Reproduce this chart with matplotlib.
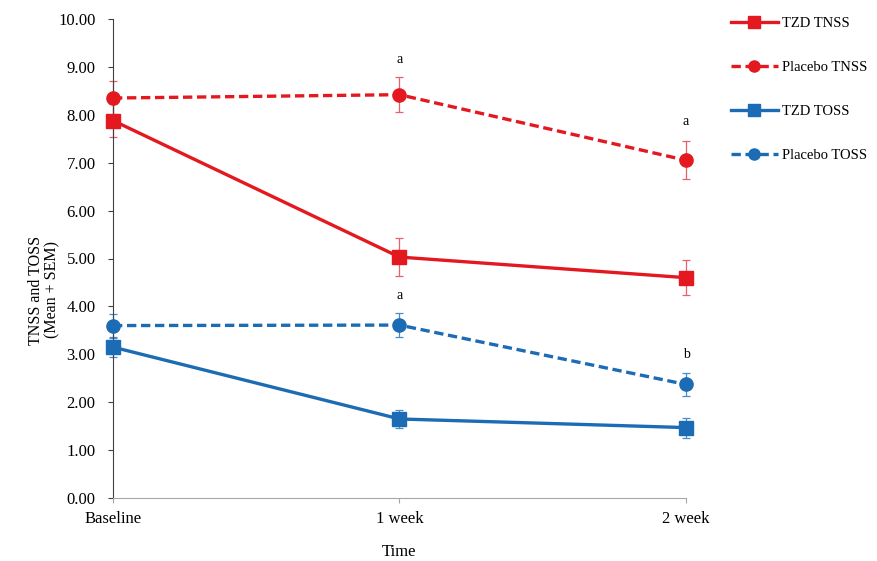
import matplotlib.pyplot as plt
from matplotlib.lines import Line2D

plt.rcParams['font.family'] = ['Liberation Serif', 'DejaVu Serif']

times = ['Baseline', '1 week', '2 week']

tzd_tnss = [7.88, 5.03, 4.60]
tzd_tnss_err = [0.35, 0.40, 0.36]
pla_tnss = [8.35, 8.42, 7.05]
pla_tnss_err = [0.35, 0.36, 0.40]
tzd_toss = [3.15, 1.65, 1.47]
tzd_toss_err = [0.20, 0.19, 0.21]
pla_toss = [3.60, 3.61, 2.37]
pla_toss_err = [0.24, 0.25, 0.25]

# significance letters: (time index, y position, letter)
notes = [(1, 9.15, 'a'), (2, 7.85, 'a'), (1, 4.22, 'a'), (2, 3.00, 'b')]

red = '#E3191F'
blue = '#1C6BB5'
red_err = '#E8606A'
blue_err = '#4A8ACB'

fig = plt.figure(figsize=(8.78, 5.61), dpi=100)
ax = fig.add_axes([113/878, 1-498/561, (686-113)/878, (498-19)/561])

x = list(range(len(times)))

dash = (0, (2.8, 1.4))
series = [
    (tzd_tnss, tzd_tnss_err, red, red_err, '-', 's', 'TZD TNSS'),
    (pla_tnss, pla_tnss_err, red, red_err, dash, 'o', 'Placebo TNSS'),
    (tzd_toss, tzd_toss_err, blue, blue_err, '-', 's', 'TZD TOSS'),
    (pla_toss, pla_toss_err, blue, blue_err, dash, 'o', 'Placebo TOSS'),
]
handles = []
for vals, err, col, ecol, ls, mk, lab in series:
    ax.errorbar(x, vals, yerr=err, fmt='none', ecolor=ecol, elinewidth=0.9,
                capsize=3, capthick=0.9, clip_on=False, zorder=2)
    ax.plot(x, vals, color=col, linestyle=ls, linewidth=2.4, marker=mk,
            markersize=9.5, clip_on=False, zorder=3)
    handles.append(Line2D([], [], color=col, linestyle=ls, linewidth=2.4,
                          marker=mk, markersize=8, label=lab))

for i, yv, t in notes:
    ax.text(x[i], yv, t, ha='center', va='center', fontsize=10)

ax.set_xlim(0, 2)
ax.set_ylim(0, 10)
ax.set_xticks(x)
ax.set_xticklabels(times, fontsize=12)
ax.set_yticks([i for i in range(11)])
ax.set_yticklabels(['%.2f' % i for i in range(11)], fontsize=12)
ax.spines['top'].set_visible(False)
ax.spines['right'].set_visible(False)
ax.spines['left'].set_color('#404040')
ax.spines['bottom'].set_color('#A6A6A6')
ax.tick_params(axis='y', direction='out', length=3.5, color='#404040', pad=9)
ax.tick_params(axis='x', direction='out', length=3.5, color='#A6A6A6', pad=6)

ax.set_xlabel('Time', fontsize=12, labelpad=12)
fig.text(44/878, 1-290/561, 'TNSS and TOSS\n(Mean + SEM)', rotation=90,
         ha='center', va='center', fontsize=11.5, linespacing=1.05,
         multialignment='center')

fig.legend(handles=handles, loc='upper left', bbox_to_anchor=(718/878, 1-4/561),
           frameon=False, fontsize=10.5, labelspacing=2.1, handlelength=3.2,
           handletextpad=0.3)

fig.savefig('out.png', dpi=100)
